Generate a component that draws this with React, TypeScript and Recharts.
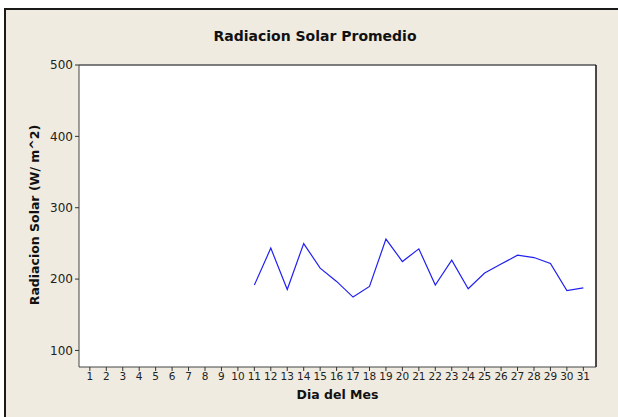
import { CartesianGrid, Line, LineChart, ReferenceLine, XAxis, YAxis } from "recharts";

const DAYS = [11, 12, 13, 14, 15, 16, 17, 18, 19, 20, 21, 22, 23, 24, 25, 26, 27, 28, 29, 30, 31];
const RADIATION = [
  191.6, 243.4, 185.5, 249.8, 215.4, 196.7, 174.8, 189.7, 256, 224.6, 242.4,
  191.6, 226.5, 186.4, 208.4, 221, 233.5, 230.2, 221.8, 184, 187.8,
];
const X_TICKS = [
  1, 2, 3, 4, 5, 6, 7, 8, 9, 10, 11, 12, 13, 14, 15, 16, 17, 18, 19, 20, 21, 22,
  23, 24, 25, 26, 27, 28, 29, 30, 31,
];
const Y_TICKS = [100, 200, 300, 400, 500];

const X_DOMAIN: [number, number] = [0.34, 31.77];
const Y_DOMAIN: [number, number] = [76.8, 500];

const BG = "#EFEBE1";
const FONT = "Tahoma, 'DejaVu Sans', sans-serif";

export default function App() {
  const data = DAYS.map((d, i) => ({ dia: d, rad: RADIATION[i] }));

  return (
    <div style={{ position: "absolute", left: 0, top: 0, width: 618, height: 417, background: "#fff", overflow: "hidden", fontFamily: FONT }}>
      {/* marco de la grafica */}
      <div
        style={{
          position: "absolute",
          left: 4,
          top: 8,
          width: 640,
          height: 440,
          background: BG,
          borderLeft: "2px solid #1a1a1a",
          borderTop: "2px solid #1a1a1a",
        }}
      />
      <div style={{ position: "absolute", left: 0, top: 0 }}>
        <LineChart width={618} height={417} data={data} margin={{ top: 65, right: 22, bottom: 20, left: 49 }}>
          <CartesianGrid fill="#fff" horizontal={false} vertical={false} />
          <XAxis
            dataKey="dia"
            type="number"
            domain={X_DOMAIN}
            ticks={X_TICKS}
            interval={0}
            height={30}
            stroke="#444"
            tickSize={4}
            tickLine={{ stroke: "#333" }}
            tick={{ fill: "#222", fontSize: 10.5, fontFamily: FONT }}
            allowDataOverflow
          />
          <YAxis
            type="number"
            domain={Y_DOMAIN}
            ticks={Y_TICKS}
            width={30}
            stroke="#444"
            tickSize={4}
            tickLine={{ stroke: "#333" }}
            tick={{ fill: "#222", fontSize: 12, fontFamily: FONT }}
            allowDataOverflow
          />
          <ReferenceLine y={500} stroke="#555" strokeWidth={1.5} />
          <ReferenceLine x={X_DOMAIN[1]} stroke="#111" strokeWidth={1.5} />
          <Line
            dataKey="rad"
            stroke="#2020F0"
            strokeWidth={1.2}
            dot={false}
            activeDot={false}
            isAnimationActive={false}
          />
        </LineChart>
      </div>
      <div style={{ position: "absolute", left: 0, width: 630, top: 28, textAlign: "center", fontWeight: "bold", fontSize: 14, color: "#111" }}>
        Radiacion Solar Promedio
      </div>
      <div style={{ position: "absolute", left: 79, width: 517, top: 387, textAlign: "center", fontWeight: "bold", fontSize: 12.5, color: "#111" }}>
        Dia del Mes
      </div>
      <div
        style={{
          position: "absolute",
          left: 34,
          top: 215,
          transform: "translate(-50%, -50%) rotate(-90deg)",
          whiteSpace: "nowrap",
          fontWeight: "bold",
          fontSize: 12.5,
          color: "#111",
        }}
      >
        Radiacion Solar (W/ m^2)
      </div>
    </div>
  );
}
